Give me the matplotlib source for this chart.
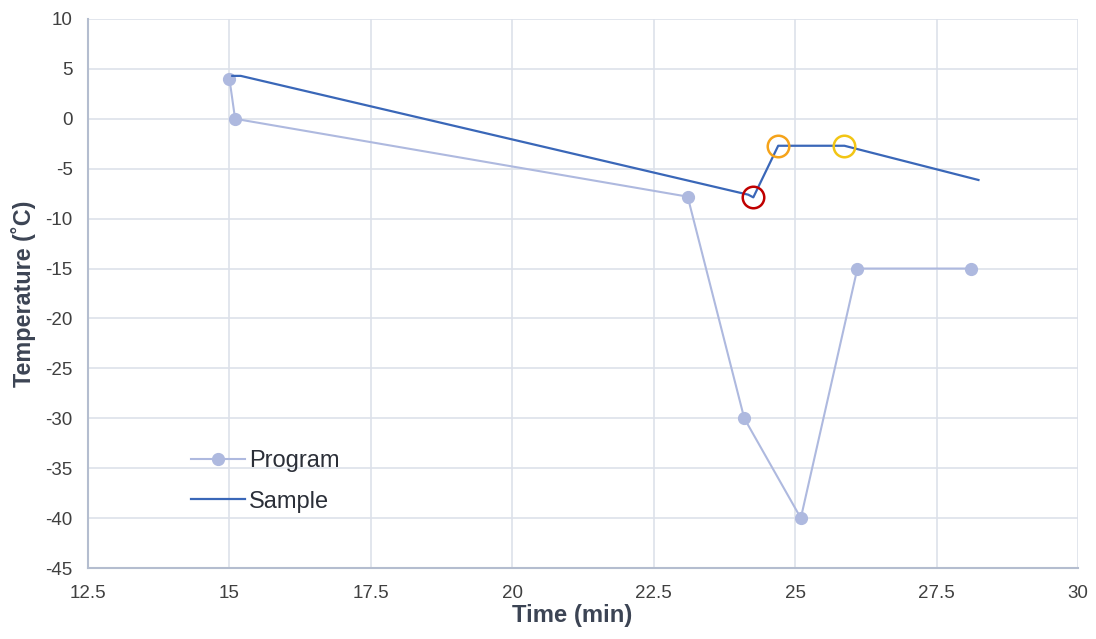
import matplotlib
matplotlib.use("Agg")
import matplotlib.pyplot as plt

plt.rcParams['font.family'] = ['Liberation Sans', 'DejaVu Sans']

program_x = [15.0, 15.1, 23.1, 24.1, 25.1, 26.1, 28.1]
program_y = [4.0, 0.0, -7.8, -30.0, -40.0, -15.0, -15.0]

sample_x = [15.05, 15.2, 24.17, 24.26, 24.7, 25.87, 28.24]
sample_y = [4.3, 4.3, -7.6, -7.87, -2.7, -2.7, -6.13]

events_x = [24.26, 24.7, 25.87]
events_y = [-7.87, -2.7, -2.7]
events_colors = ['#C00000', '#F5A31A', '#F2C515']

xticks = [12.5, 15, 17.5, 20, 22.5, 25, 27.5, 30]
yticks = [10, 5, 0, -5, -10, -15, -20, -25, -30, -35, -40, -45]

fig = plt.figure(figsize=(10.96, 6.39), dpi=100)
ax = fig.add_axes([0.0803, 0.1111, 0.9033, 0.8592])

ax.plot(program_x, program_y, color='#AEB9DF', lw=1.5, marker='o', ms=8.5,
        label='Program', zorder=3)
ax.plot(sample_x, sample_y, color='#3A67B8', lw=1.6, label='Sample', zorder=4)
for x, y, c in zip(events_x, events_y, events_colors):
    ax.plot([x], [y], marker='o', ms=15.5, mfc='none', mec=c, mew=1.8, ls='none', zorder=5)

ax.set_xlim(12.5, 30)
ax.set_ylim(-45, 10)
ax.set_xticks(xticks)
ax.set_xticklabels([f'{t:g}' for t in xticks])
ax.set_yticks(yticks)
ax.set_yticklabels([f'{t:g}' for t in yticks])
ax.grid(True, color='#DDE1EA', lw=1.2, zorder=0)
ax.set_axisbelow(True)
for s in ['top', 'right']:
    ax.spines[s].set_visible(False)
for s in ['left', 'bottom']:
    ax.spines[s].set_color('#B4BDCF')
    ax.spines[s].set_linewidth(1.5)
ax.tick_params(length=0, labelsize=13.5, labelcolor='#404040')
ax.tick_params(axis='y', pad=11)
ax.tick_params(axis='x', pad=12)
ax.set_xlabel('Time (min)', fontsize=17.2, fontweight='bold', color='#3C4454', labelpad=2)
ax.xaxis.label.set_x(0.489)
ax.set_ylabel('Temperature (˚C)', fontsize=16.8, fontweight='bold', color='#3C4454', labelpad=7)

leg = ax.legend(loc='lower left', bbox_to_anchor=(0.083, 0.062), frameon=False,
                fontsize=17, handlelength=2.25, handletextpad=0.2, labelspacing=0.8)
for t in leg.get_texts():
    t.set_color('#2B2F38')

fig.savefig('out.png', dpi=100)
